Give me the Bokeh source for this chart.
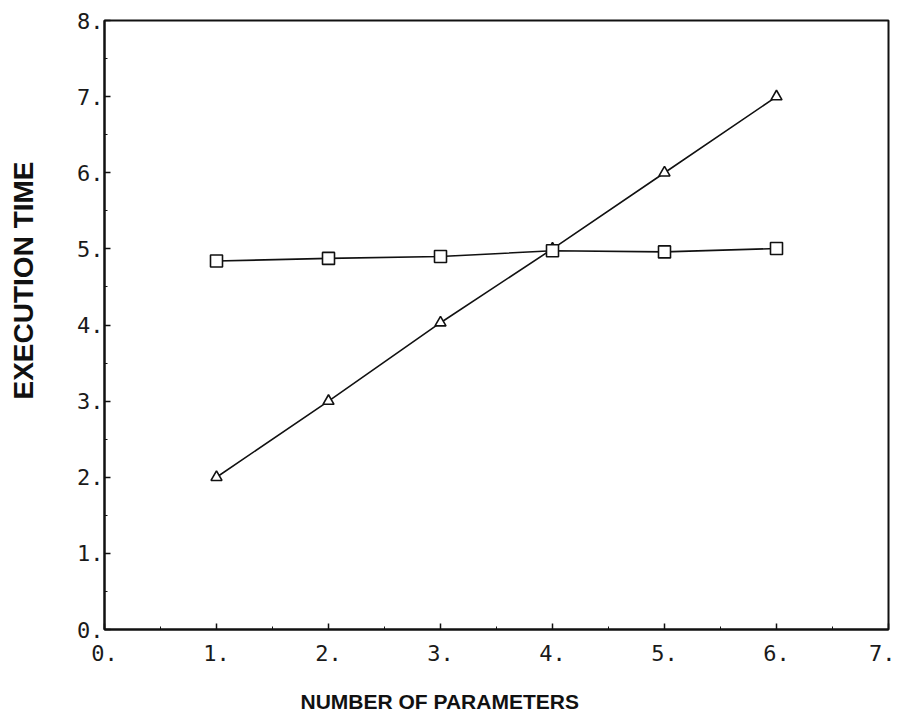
from bokeh.plotting import figure
from bokeh.models import Range1d, PrintfTickFormatter, FixedTicker, Title
from bokeh.embed import file_html
from bokeh.resources import INLINE

# Data
params = [1, 2, 3, 4, 5, 6]
time_triangle = [2.0, 3.0, 4.03, 5.0, 6.0, 7.0]
time_square = [4.84, 4.875, 4.90, 4.975, 4.96, 5.005]
x_ticks = [0, 1, 2, 3, 4, 5, 6, 7]
y_ticks = [0, 1, 2, 3, 4, 5, 6, 7, 8]
x_title = "NUMBER OF PARAMETERS"
y_title = "EXECUTION TIME"

p = figure(width=895, height=714, output_backend="svg", toolbar_location=None,
           x_range=Range1d(0, 7), y_range=Range1d(0, 8),
           min_border_left=104, min_border_right=7, min_border_top=20, min_border_bottom=84)
p.background_fill_color = "white"
p.border_fill_color = "white"
p.outline_line_color = "#111111"
p.outline_line_width = 2
p.xgrid.visible = False
p.ygrid.visible = False

tick_font = "DejaVu Sans Mono"
for ax, ticks in ((p.xaxis[0], x_ticks), (p.yaxis[0], y_ticks)):
    ax.ticker = FixedTicker(ticks=ticks, minor_ticks=[t + 0.5 for t in ticks[:-1]])
    ax.formatter = PrintfTickFormatter(format="%d.")
    ax.major_label_text_font = tick_font
    ax.major_label_text_font_size = "22px"
    ax.major_label_text_color = "#1a1a1a"
    ax.major_tick_in = 6
    ax.major_tick_out = 0
    ax.minor_tick_in = 3
    ax.minor_tick_out = 0
    ax.axis_line_width = 2
    ax.axis_line_color = "#111111"
    ax.major_tick_line_color = "#111111"
    ax.minor_tick_line_color = "#111111"
    ax.major_tick_line_width = 1.5
p.xaxis.major_label_standoff = 15
p.yaxis.major_label_standoff = 1

p.line(params, time_triangle, line_color="#111111", line_width=1.6)
p.scatter(params, time_triangle, marker="triangle", size=11, fill_color="white",
          line_color="#111111", line_width=1.6)
p.line(params, time_square, line_color="#111111", line_width=1.6)
p.scatter(params, time_square, marker="square", size=12, fill_color="white",
          line_color="#111111", line_width=1.6)

p.add_layout(Title(text=x_title, align="left", offset=196, vertical_align="top",
                   text_font="Liberation Sans", text_font_style="bold",
                   text_font_size="21px", text_color="#111111", standoff=0,
                   padding=dict(top=26, bottom=0, left=0, right=0)), "below")
p.add_layout(Title(text=y_title, align="left", offset=230, vertical_align="top",
                   text_font="Liberation Sans", text_font_style="bold",
                   text_font_size="28px", text_color="#111111", standoff=0,
                   padding=dict(top=0, bottom=0, left=0, right=34)), "left")

open("out.html", "w").write(file_html(p, INLINE))
